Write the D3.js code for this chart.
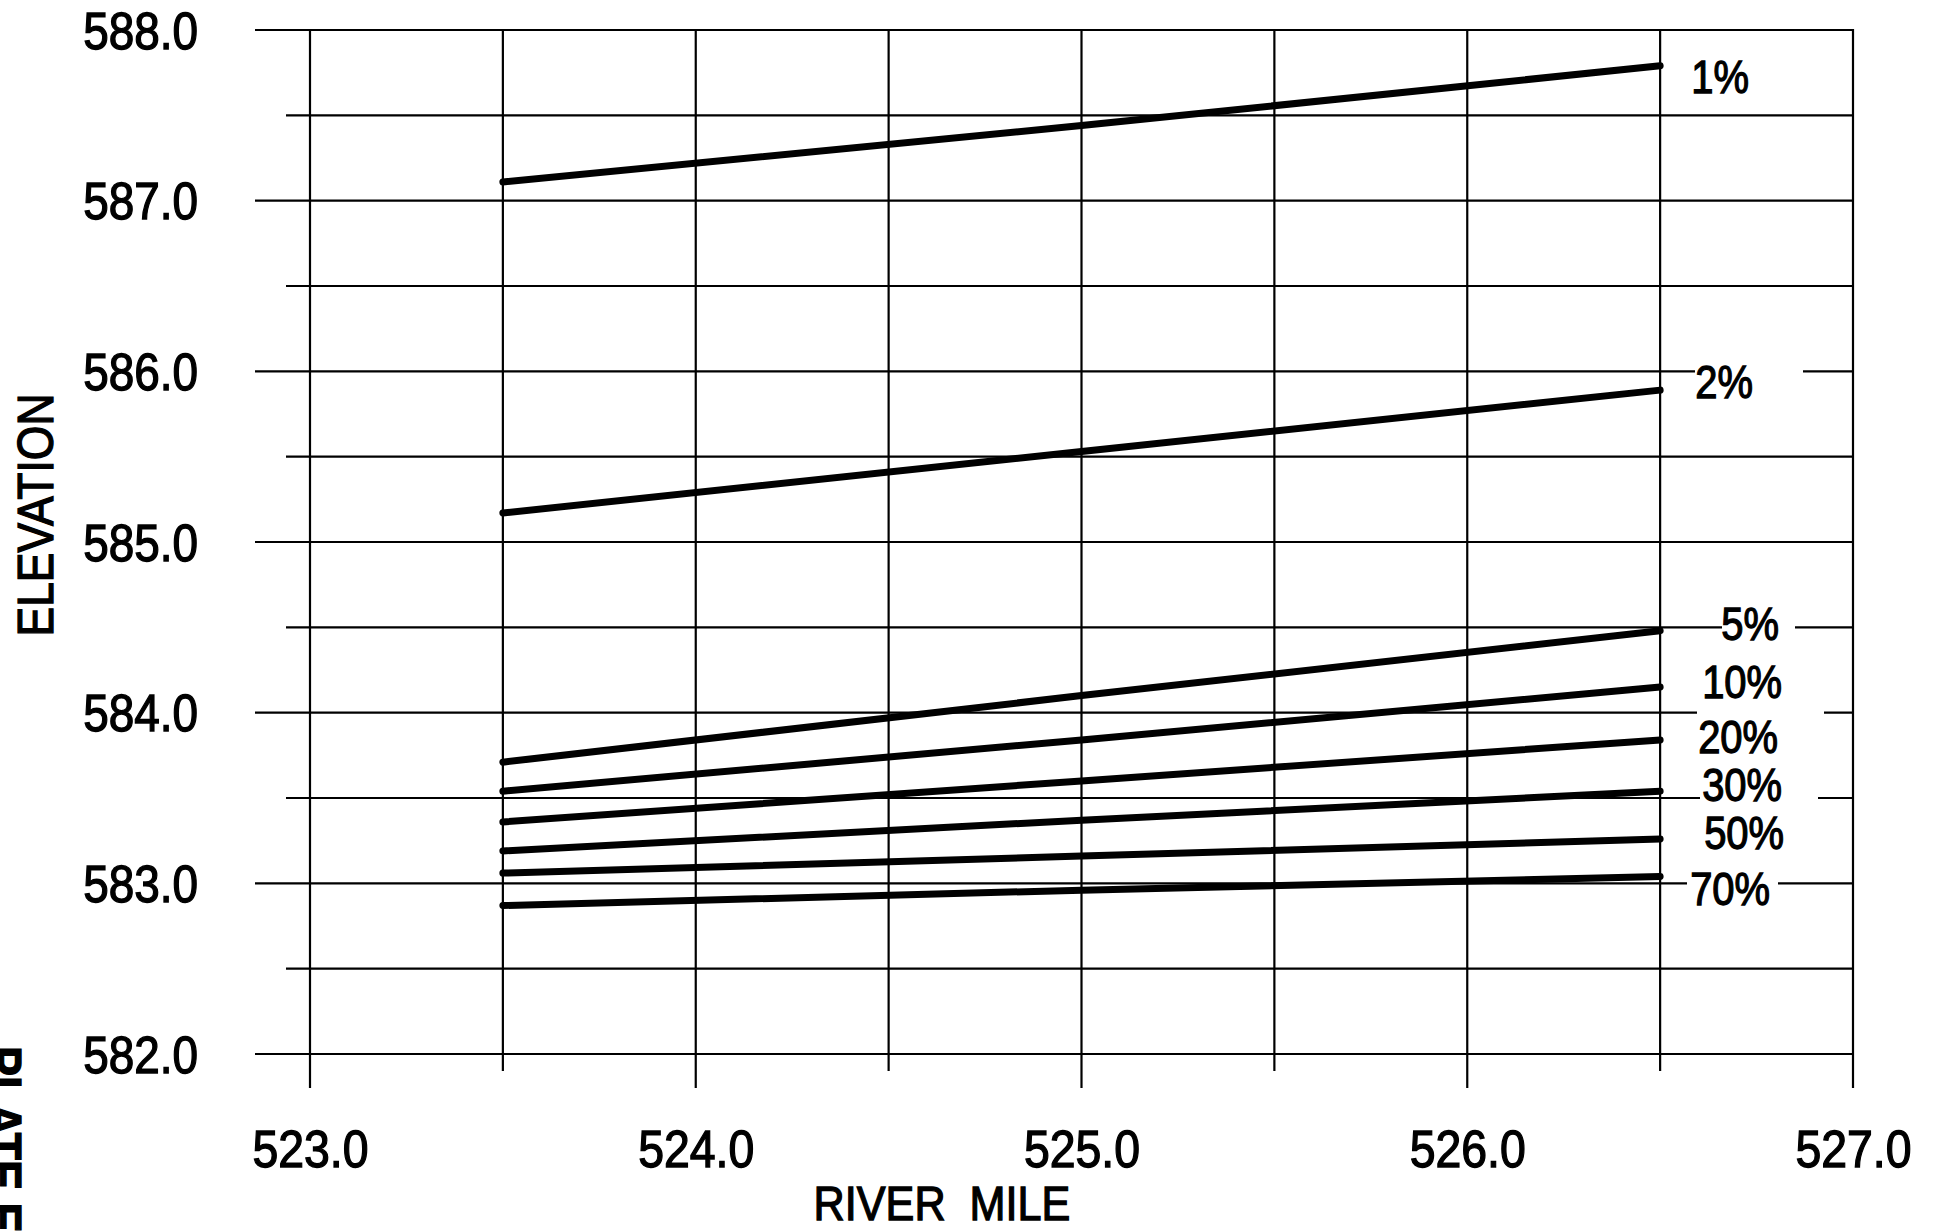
<!DOCTYPE html>
<html>
<head>
<meta charset="utf-8">
<script src="https://cdn.jsdelivr.net/npm/d3@7"></script>
<style>
  html, body { margin: 0; padding: 0; background: #fff; }
  svg { display: block; }
  text { font-family: "Liberation Sans", Arial, Helvetica, sans-serif; fill: #000; stroke: #000; stroke-width: 1.3px; }
</style>
</head>
<body>
<svg id="chart" width="1934" height="1231"></svg>
<script>
// ---------------- data ----------------
const riverMiles = [523.5, 525.0, 526.5];
const seriesNames = ["1%", "2%", "5%", "10%", "20%", "30%", "50%", "70%"];
const elev1  = [587.11, 587.44, 587.79];
const elev2  = [585.17, 585.53, 585.89];
const elev5  = [583.71, 584.10, 584.48];
const elev10 = [583.54, 583.84, 584.15];
const elev20 = [583.36, 583.60, 583.84];
const elev30 = [583.19, 583.37, 583.54];
const elev50 = [583.06, 583.16, 583.26];
const elev70 = [582.87, 582.96, 583.04];
const seriesValues = [elev1, elev2, elev5, elev10, elev20, elev30, elev50, elev70];

const xTickLabels = ["523.0", "524.0", "525.0", "526.0", "527.0"];
const yTickLabels = ["582.0", "583.0", "584.0", "585.0", "586.0", "587.0", "588.0"];
const xTitle = "RIVER  MILE";
const yTitle = "ELEVATION";
const plateText = "PLATE E";

// ---------------- layout ----------------
const X0 = 310, X1 = 1853, Y0 = 1054, Y1 = 30;
const x = d3.scaleLinear().domain([523, 527]).range([X0, X1]);
const y = d3.scaleLinear().domain([582, 588]).range([Y0, Y1]);

// label offsets relative to the line's right end: [dx of centre, dy of baseline]
const labelOffsets = [[60, 27], [64, 8], [90, 9], [82, 11], [78, 13], [82, 10], [84, 10], [70, 28]];
// white gaps where labels interrupt gridlines: [elevation, x start px, x end px]
const gridGaps = [[586.0, 1695, 1803], [584.5, 1722, 1795], [584.0, 1697, 1824], [583.5, 1700, 1818], [583.0, 1687, 1778]];

const svg = d3.select("#chart");
svg.append("rect").attr("width", 1934).attr("height", 1231).attr("fill", "#fff");

const grid = svg.append("g").attr("stroke", "#000").attr("stroke-width", 2.2).attr("fill", "none");

// horizontal gridlines (major every 1.0, minor every 0.5)
const hVals = d3.range(582, 588.001, 0.5);
grid.selectAll("line.h").data(hVals).join("line")
  .attr("class", "h")
  .attr("x1", d => Math.abs(d - Math.round(d)) < 1e-6 ? 255 : 286)
  .attr("x2", X1)
  .attr("y1", d => y(d)).attr("y2", d => y(d));

// vertical gridlines (major every 1.0, minor every 0.5)
const vVals = d3.range(523, 527.001, 0.5);
grid.selectAll("line.v").data(vVals).join("line")
  .attr("class", "v")
  .attr("x1", d => x(d)).attr("x2", d => x(d))
  .attr("y1", Y1 - 1)
  .attr("y2", d => Math.abs(d - Math.round(d)) < 1e-6 ? 1088 : 1071);

// gaps in gridlines behind labels
svg.append("g").selectAll("rect").data(gridGaps).join("rect")
  .attr("x", d => d[1]).attr("width", d => d[2] - d[1])
  .attr("y", d => y(d[0]) - 3).attr("height", 6)
  .attr("fill", "#fff");

// y tick labels
const yAxis = d3.axisLeft(y).tickValues(yTickLabels.map(Number)).tickFormat(d3.format(".1f")).tickSize(0).tickPadding(0);
const gy = svg.append("g").attr("transform", "translate(198,0)").call(yAxis);
gy.select(".domain").remove();
gy.selectAll(".tick text")
  .attr("x", 0).attr("dy", null).attr("y", 0)
  .attr("transform", "translate(0,18) scale(0.9,1)")
  .style("font-size", "51px").style("font-family", "'Liberation Sans', Arial, sans-serif")
  .attr("text-anchor", "end").attr("fill", "#000");

// x tick labels
const xAxis = d3.axisBottom(x).tickValues(xTickLabels.map(Number)).tickFormat(d3.format(".1f")).tickSize(0).tickPadding(0);
const gx = svg.append("g").attr("transform", "translate(0,1167)").call(xAxis);
gx.select(".domain").remove();
gx.selectAll(".tick text")
  .attr("y", 0).attr("dy", null)
  .attr("transform", "scale(0.91,1)")
  .style("font-size", "51px").style("font-family", "'Liberation Sans', Arial, sans-serif")
  .attr("text-anchor", "middle").attr("fill", "#000");

// axis titles
svg.append("text").attr("transform", "translate(942,1220) scale(0.9,1)")
  .attr("text-anchor", "middle").style("font-size", "48px").style("white-space", "pre").text(xTitle);
svg.append("text").attr("transform", "translate(53,515) rotate(-90) scale(0.89,1)")
  .attr("text-anchor", "middle").style("font-size", "50px").text(yTitle);
svg.append("text").attr("transform", "translate(-14,1046) rotate(90) scale(0.9,1)")
  .attr("text-anchor", "start").style("font-size", "50px").style("font-weight", "bold").text(plateText);

// data lines
const line = d3.line().x((d, i) => x(riverMiles[i])).y(d => y(d));
svg.append("g").selectAll("path").data(seriesValues).join("path")
  .attr("d", d => line(d))
  .attr("fill", "none").attr("stroke", "#000").attr("stroke-width", 7)
  .attr("stroke-linecap", "round").attr("stroke-linejoin", "round");

// series labels
const lastMile = riverMiles[riverMiles.length - 1];
svg.append("g").selectAll("text").data(seriesNames).join("text")
  .attr("transform", (d, i) => {
    const v = seriesValues[i][seriesValues[i].length - 1];
    const cx = x(lastMile) + labelOffsets[i][0];
    const by = y(v) + labelOffsets[i][1];
    return `translate(${cx},${by}) scale(0.85,1)`;
  })
  .attr("text-anchor", "middle").style("font-size", "47px")
  .text(d => d);
</script>
</body>
</html>
